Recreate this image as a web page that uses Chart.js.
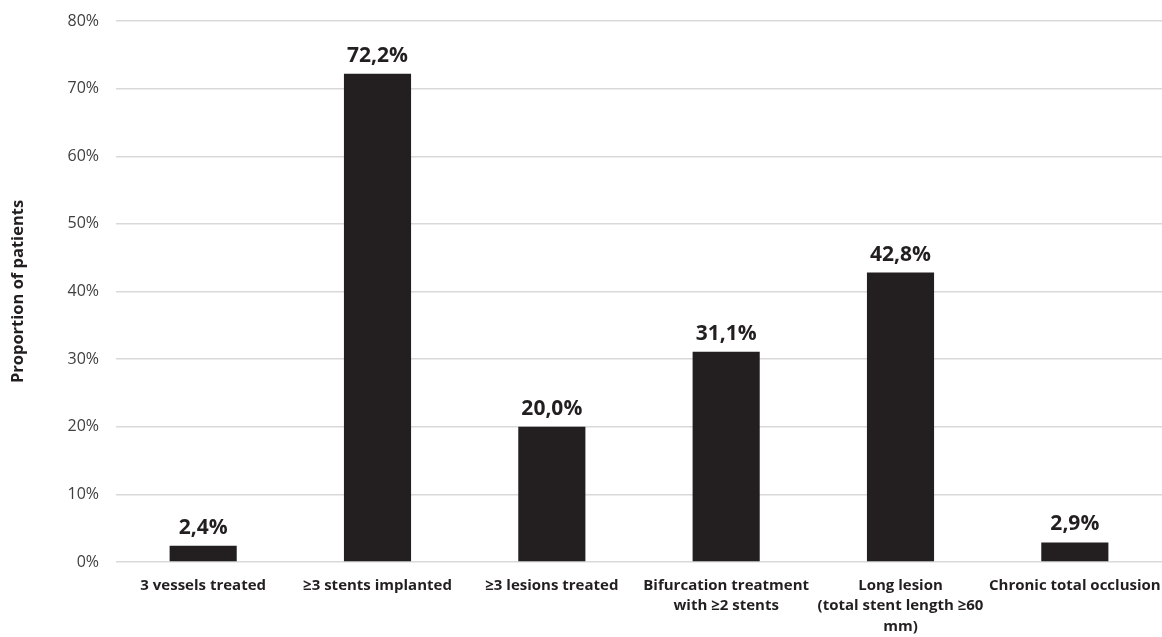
<!DOCTYPE html>
<html>
<head>
<meta charset="utf-8">
<script src="https://cdn.jsdelivr.net/npm/chart.js@4/dist/chart.umd.min.js"></script>
<style>
  html, body { margin: 0; padding: 0; background: #ffffff; }
  #wrap { width: 1162px; height: 637px; position: relative; }
</style>
</head>
<body>
<div id="wrap"><canvas id="c"></canvas></div>
<script>
const categories = [
  ["3 vessels treated"],
  ["≥3 stents implanted"],
  ["≥3 lesions treated"],
  ["Bifurcation treatment", "with ≥2 stents"],
  ["Long lesion", "(total stent length ≥60", "mm)"],
  ["Chronic total occlusion"]
];
const proportions = [2.4, 72.2, 20.0, 31.1, 42.8, 2.9];
const yTicks = [0, 10, 20, 30, 40, 50, 60, 70, 80];
const yTitle = "Proportion of patients";

const FONT = "'Open Sans', 'Noto Sans', sans-serif";
const INK = "#231f20";

// value labels above each bar, written with a decimal comma
const valueLabels = {
  id: "valueLabels",
  afterDatasetsDraw(chart) {
    const ctx = chart.ctx;
    const meta = chart.getDatasetMeta(0);
    ctx.save();
    ctx.font = "bold 21px " + FONT;
    ctx.fillStyle = INK;
    ctx.textAlign = "center";
    ctx.textBaseline = "alphabetic";
    meta.data.forEach((bar, i) => {
      const txt = proportions[i].toFixed(1).replace(".", ",") + "%";
      ctx.fillText(txt, bar.x, bar.y - 12);
    });
    ctx.restore();
  }
};

new Chart(document.getElementById("c"), {
  type: "bar",
  data: {
    labels: categories,
    datasets: [{
      data: proportions,
      backgroundColor: INK,
      borderWidth: 0,
      categoryPercentage: 1,
      barPercentage: 0.385
    }]
  },
  options: {
    responsive: true,
    maintainAspectRatio: false,
    animation: false,
    layout: { padding: { top: 21, right: 0, left: 0, bottom: 0 } },
    plugins: { legend: { display: false }, tooltip: { enabled: false } },
    scales: {
      x: {
        grid: { display: false, drawTicks: false },
        border: { display: false },
        ticks: {
          color: INK,
          font: { family: FONT, size: 15, weight: "bold", lineHeight: 1.37 },
          padding: 13,
          maxRotation: 0,
          autoSkip: false
        },
        afterFit(scale) {
          scale.height = 75;
          // let the outer labels run to the canvas edge
          scale.paddingLeft = 0;
          scale.paddingRight = 0;
        }
      },
      y: {
        min: 0,
        max: 80,
        afterBuildTicks(scale) { scale.ticks = yTicks.map(v => ({ value: v })); },
        grid: { color: "#d9d9d9", lineWidth: 1.5, drawTicks: false },
        border: { display: false },
        ticks: {
          color: "#404040",
          font: { family: FONT, size: 16 },
          padding: 17,
          callback: v => v + "%"
        },
        title: {
          display: true,
          text: yTitle,
          color: INK,
          font: { family: FONT, size: 16.5, weight: "bold" },
          padding: { top: 8, bottom: 0 }
        },
        afterFit(scale) {
          scale.width = 116;
          scale.paddingTop = 0;
          scale.paddingBottom = 0;
        }
      }
    }
  },
  plugins: [valueLabels]
});
</script>
</body>
</html>
